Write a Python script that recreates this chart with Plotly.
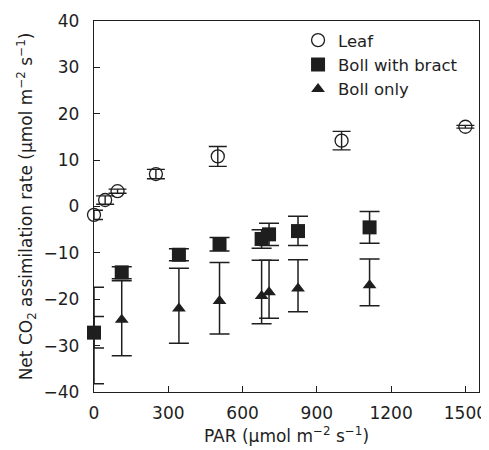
import plotly.graph_objects as go

# ---- data ----
leaf_par = [0, 45, 95, 250, 500, 1000, 1500]
leaf_val = [-1.8, 1.4, 3.3, 7.0, 10.8, 14.2, 17.2]
leaf_err = [1.0, 0.9, 0.45, 1.0, 2.15, 2.0, 0.3]

boll_par = [0, 112, 343, 507, 677, 707, 824, 1113]
bract_val = [-27.2, -14.2, -10.4, -8.1, -7.0, -6.0, -5.3, -4.5]
bract_err_plus = [3.5, 1.2, 1.3, 1.4, 2.0, 2.4, 3.2, 3.4]
bract_err_minus = [3.3, 1.4, 1.3, 1.5, 2.0, 2.4, 3.1, 3.4]

only_val = [-27.8, -24.4, -22.0, -20.4, -19.3, -18.5, -17.7, -17.0]
only_err_plus = [10.4, 8.4, 8.7, 8.3, 7.7, 6.9, 6.2, 5.7]
only_err_minus = [10.4, 7.8, 7.5, 7.1, 6.0, 5.6, 5.0, 4.4]

x_ticks = [0, 300, 600, 900, 1200, 1500]
y_ticks = [-40, -30, -20, -10, 0, 10, 20, 30, 40]

INK = "#1e1e1e"
FONT = "DejaVu Sans, Liberation Sans, Arial, sans-serif"
FS = 17

fig = go.Figure()

fig.add_trace(go.Scatter(
    x=leaf_par, y=leaf_val, mode="markers", name="Leaf", legendrank=1,
    marker=dict(symbol="circle-open", size=13, color=INK, line=dict(width=1.3, color=INK)),
    error_y=dict(type="data", array=leaf_err, visible=True, color=INK, thickness=1.4, width=9),
    cliponaxis=False,
))
fig.add_trace(go.Scatter(
    x=boll_par, y=only_val, mode="markers", name="Boll only", legendrank=3,
    marker=dict(symbol="triangle-up", size=12, color=INK),
    error_y=dict(type="data", array=only_err_plus, arrayminus=only_err_minus, symmetric=False,
                 visible=True, color=INK, thickness=1.5, width=10),
    cliponaxis=False,
))
fig.add_trace(go.Scatter(
    x=boll_par, y=bract_val, mode="markers", name="Boll with bract", legendrank=2,
    marker=dict(symbol="square", size=14, color=INK),
    error_y=dict(type="data", array=bract_err_plus, arrayminus=bract_err_minus, symmetric=False,
                 visible=True, color=INK, thickness=1.5, width=10),
    cliponaxis=False,
))

axis_common = dict(
    showline=True, linecolor=INK, linewidth=1.3, mirror=True,
    ticks="inside", ticklen=6, tickwidth=1.2, tickcolor=INK,
    showgrid=False, zeroline=False, automargin=False,
    tickfont=dict(family=FONT, size=FS, color=INK),
)

# page body has an 8px margin, so the figure is sized/offset to compensate
fig.update_layout(
    width=481, height=442,
    margin=dict(l=86, r=10, t=13, b=58),
    paper_bgcolor="white", plot_bgcolor="white",
    font=dict(family=FONT, size=FS, color=INK),
    xaxis=dict(range=[0, 1555], tickvals=x_ticks, ticklabelstandoff=5,
               title=dict(text="PAR (µmol m<sup>−2</sup> s<sup>−1</sup>)", standoff=8,
                          font=dict(family=FONT, size=FS, color=INK)),
               **axis_common),
    yaxis=dict(range=[-40, 40], tickvals=y_ticks, ticklabelstandoff=10,
               title=dict(text="Net CO<sub>2</sub> assimilation rate (µmol m<sup>−2</sup> s<sup>−1</sup>)",
                          standoff=6, font=dict(family=FONT, size=FS, color=INK)),
               **axis_common),
    legend=dict(x=0.53, y=0.995, xanchor="left", yanchor="top",
                font=dict(family=FONT, size=16.5, color=INK),
                bgcolor="rgba(0,0,0,0)", itemsizing="trace",
                tracegroupgap=0),
    showlegend=True,
)

fig.write_html("out.html")
